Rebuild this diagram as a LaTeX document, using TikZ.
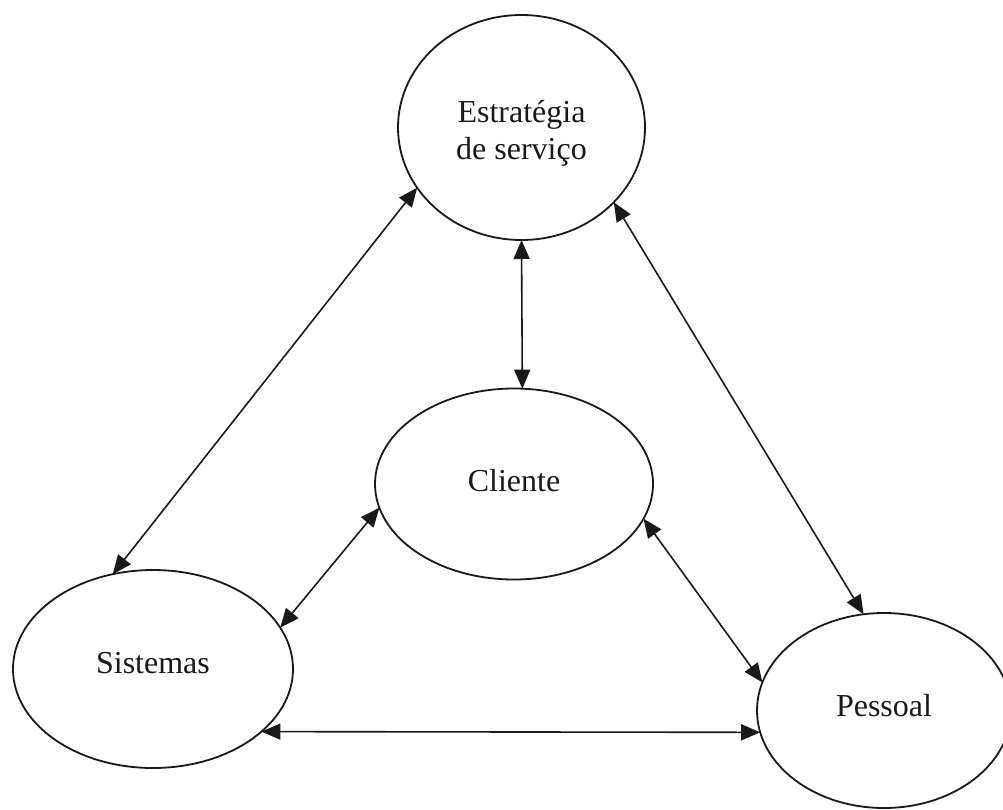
\documentclass[tikz,border=0pt]{standalone}
\usepackage{fontspec}
\setmainfont{Liberation Serif}
\usetikzlibrary{arrows.meta,shapes.geometric}
\begin{document}
\begin{tikzpicture}[x=1pt,y=-1pt,
  bub/.style={ellipse, draw=black!90, line width=1.8pt, inner sep=0pt, outer sep=0pt},
  lbl/.style={font=\fontsize{32}{36.7}\selectfont, align=center, text=black!90, inner sep=0pt},
  link/.style={draw=black!90, line width=1.6pt,
    {Triangle[length=19pt,width=16pt]}-{Triangle[length=19pt,width=16pt]}}]
\useasboundingbox (0,0) rectangle (1003,809);
\fill[white] (0,0) rectangle (1003,809);
\node[bub, minimum width=247pt, minimum height=225pt,
  label={[lbl,yshift=-6pt]center:Estratégia\\de serviço}] (E) at (521.5,127.5) {};
\node[bub, minimum width=278pt, minimum height=191pt,
  label={[lbl,yshift=3pt]center:Cliente}] (C) at (514,484) {};
\node[bub, minimum width=280pt, minimum height=198pt,
  label={[lbl,yshift=6pt]center:Sistemas}] (S) at (153,669) {};
\node[bub, minimum width=254pt, minimum height=195pt,
  label={[lbl,yshift=4.7pt]center:Pessoal}] (P) at (884,710.5) {};
\draw[link] (E.210.9) -- (S.113.9);
\draw[link] (E.-90) -- (C.85.8);
\draw[link] (E.-39.8) -- (P.102.15);
\draw[link] (C.190.6) -- (S.18.6);
\draw[link] (C.-15.9) -- (P.167.0);
\draw[link] (S.-30.9) -- (P.190.32);
\end{tikzpicture}
\end{document}
